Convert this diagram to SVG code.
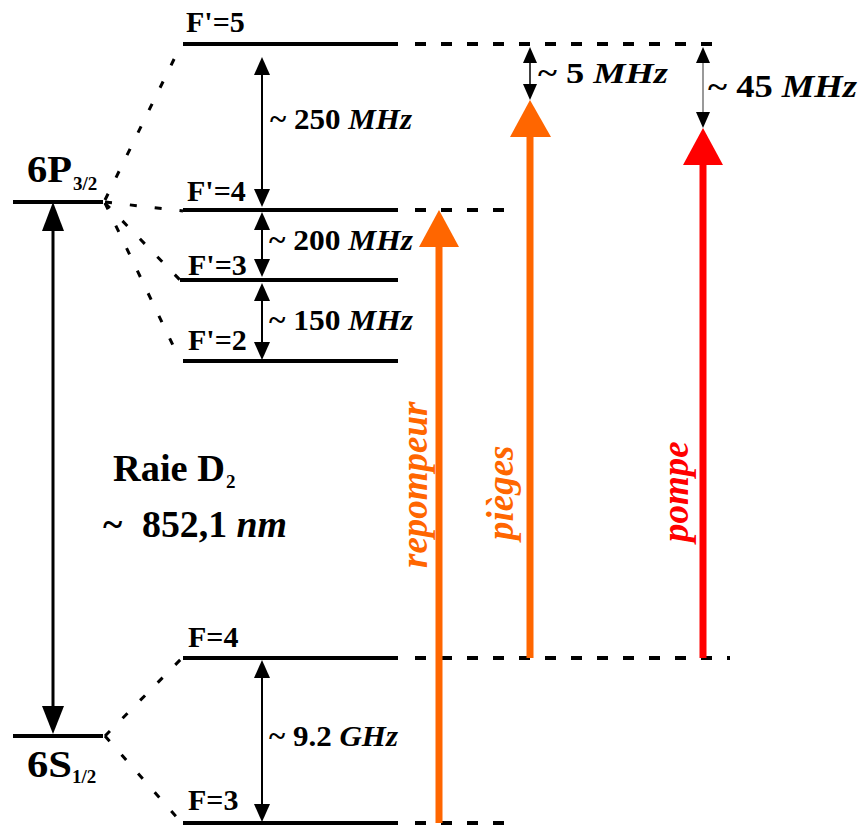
<svg xmlns="http://www.w3.org/2000/svg" width="864" height="827" viewBox="0 0 864 827">
<style>
.lvl{stroke:#000;stroke-width:4;fill:none}
.ext{stroke:#000;stroke-width:4;stroke-dasharray:11 15;fill:none}
.dot{stroke:#000;stroke-width:3;stroke-dasharray:7 18;fill:none}
.lbl{font-family:"Liberation Serif","Times New Roman",serif;font-weight:bold;font-size:30px;fill:#000}
.it{font-style:italic}
.big{font-size:37px}
.sub{font-size:19px}
.rot{font-family:"Liberation Serif","Times New Roman",serif;font-weight:bold;font-style:italic;font-size:37px}
.ar{stroke:#000;stroke-width:2;fill:none}
</style>
<rect width="864" height="827" fill="#fff"/>
<g id="levels">
<g id="P32"><line class="lvl" x1="13" y1="202" x2="103" y2="202"/><text class="lbl big" x="27" y="182" textLength="45" lengthAdjust="spacingAndGlyphs">6P</text><text class="lbl sub" x="73" y="190">3/2</text></g>
<g id="S12"><line class="lvl" x1="13" y1="736" x2="103" y2="736"/><text class="lbl big" x="27" y="777" textLength="45" lengthAdjust="spacingAndGlyphs">6S</text><text class="lbl sub" x="72" y="783">1/2</text></g>
<g id="Fp5"><line class="lvl" x1="183" y1="44" x2="398" y2="44"/><line class="ext" x1="415" y1="44" x2="712" y2="44"/><text class="lbl" x="186" y="32">F'=5</text></g>
<g id="Fp4"><line class="lvl" x1="183" y1="210" x2="398" y2="210"/><line class="ext" x1="415" y1="210" x2="505" y2="210"/><text class="lbl" x="187" y="201">F'=4</text></g>
<g id="Fp3"><line class="lvl" x1="180" y1="280" x2="398" y2="280"/><text class="lbl" x="188" y="275">F'=3</text></g>
<g id="Fp2"><line class="lvl" x1="183" y1="361" x2="398" y2="361"/><text class="lbl" x="188" y="350">F'=2</text></g>
<g id="F4"><line class="lvl" x1="183" y1="658" x2="398" y2="658"/><line class="ext" x1="415" y1="658" x2="730" y2="658"/><text class="lbl" x="188" y="647">F=4</text></g>
<g id="F3"><line class="lvl" x1="183" y1="823" x2="398" y2="823"/><line class="ext" x1="415" y1="823" x2="505" y2="823"/><text class="lbl" x="188" y="810">F=3</text></g>
</g>
<g id="connectors">
<line class="dot" x1="105" y1="200" x2="181" y2="45"/>
<line class="dot" x1="105" y1="202" x2="183" y2="211"/>
<line class="dot" x1="105" y1="203" x2="180" y2="280"/>
<line class="dot" x1="105" y1="203" x2="180" y2="360"/>
<line class="dot" x1="105" y1="736" x2="181" y2="659"/>
<line class="dot" x1="105" y1="736" x2="181" y2="822"/>
<line stroke="#000" stroke-width="3" x1="53" y1="225" x2="53" y2="712"/>
<polygon points="53,202 42,231 64,231"/>
<polygon points="53,734 42,706 64,706"/>
<line class="ar" x1="262" y1="70" x2="262" y2="194"/>
<polygon points="262,57 254,75 270,75"/><polygon points="262,207 254,189 270,189"/>
<line class="ar" x1="262" y1="225" x2="262" y2="264"/>
<polygon points="262,212 254,230 270,230"/><polygon points="262,277 254,259 270,259"/>
<line class="ar" x1="262" y1="296" x2="262" y2="347"/>
<polygon points="262,283 254,301 270,301"/><polygon points="262,360 254,342 270,342"/>
<line class="ar" x1="262" y1="673" x2="262" y2="809"/>
<polygon points="262,660 254,678 270,678"/><polygon points="262,822 254,804 270,804"/>
<line stroke="#000" stroke-width="1.5" x1="530" y1="60" x2="530" y2="87"/>
<polygon points="530,47 523,63 537,63"/><polygon points="530,100 523,84 537,84"/>
<line stroke="#555" stroke-width="1.2" x1="703" y1="60" x2="703" y2="115"/>
<polygon points="703,47 696,63 710,63"/><polygon points="703,128 696,112 710,112"/>
<line stroke="#FF6600" stroke-width="7" x1="439" y1="823" x2="439" y2="245"/>
<polygon fill="#FF6600" points="439,210 419,247 459,247"/>
<line stroke="#FF6600" stroke-width="7" x1="530" y1="658" x2="530" y2="135"/>
<polygon fill="#FF6600" points="530,100 510,137 551,137"/>
<line stroke="#FF0000" stroke-width="7" x1="703" y1="658" x2="703" y2="163"/>
<polygon fill="#FF0000" points="703,128 683,165 723,165"/>
</g>
<g id="labels">
<text class="lbl" x="270" y="129" textLength="142" lengthAdjust="spacingAndGlyphs">~ 250 <tspan class="it">MHz</tspan></text>
<text class="lbl" x="269" y="250" textLength="144" lengthAdjust="spacingAndGlyphs">~ 200 <tspan class="it">MHz</tspan></text>
<text class="lbl" x="269" y="330" textLength="144" lengthAdjust="spacingAndGlyphs">~ 150 <tspan class="it">MHz</tspan></text>
<text class="lbl" x="269" y="746" textLength="129" lengthAdjust="spacingAndGlyphs">~ 9.2 <tspan class="it">GHz</tspan></text>
<text class="lbl" x="538" y="83" textLength="130" lengthAdjust="spacingAndGlyphs">~ 5 <tspan class="it">MHz</tspan></text>
<text class="lbl" x="708" y="97" style="font-size:32px" textLength="149" lengthAdjust="spacingAndGlyphs">~ 45 <tspan class="it">MHz</tspan></text>
<text class="lbl big" x="113" y="481" textLength="112" lengthAdjust="spacingAndGlyphs">Raie D</text>
<text class="lbl sub" x="226" y="488">2</text>
<text class="lbl big" x="103" y="537">~</text>
<text class="lbl big" x="142" y="537" textLength="145" lengthAdjust="spacingAndGlyphs">852,1 <tspan class="it">nm</tspan></text>
<text class="rot" fill="#FF6600" transform="translate(427,568) rotate(-90)">repompeur</text>
<text class="rot" fill="#FF6600" transform="translate(513,540) rotate(-90)">pièges</text>
<text class="rot" fill="#FF0000" transform="translate(688,542) rotate(-90)">pompe</text>
</g>
</svg>
